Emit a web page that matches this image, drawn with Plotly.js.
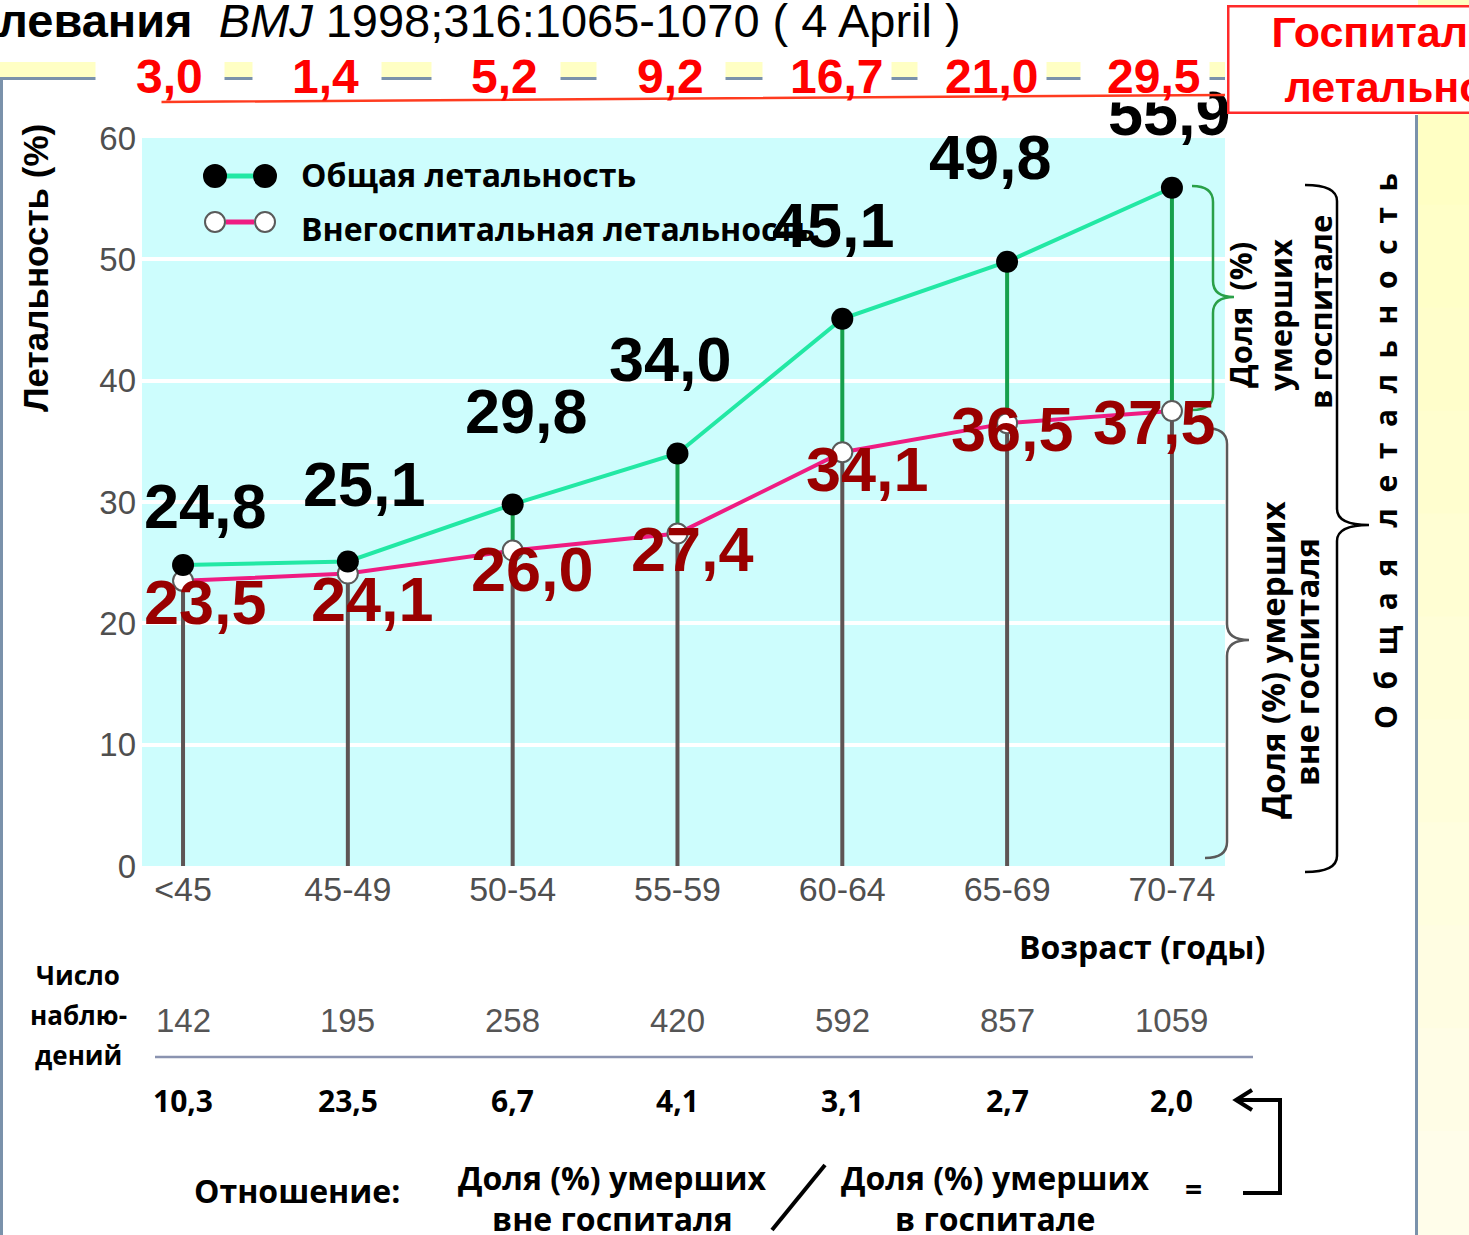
<!DOCTYPE html>
<html><head><meta charset="utf-8">
<script src="https://cdn.plot.ly/plotly-3.0.1.min.js"></script>
<style>html,body{margin:0;padding:0;background:#fff}#chart{width:1469px;height:1235px}</style>
</head><body><div id="chart"></div>
<script>
// ---- data ----
const ageGroups = ['<45','45-49','50-54','55-59','60-64','65-69','70-74'];
const totalMortality = [24.8, 25.1, 29.8, 34.0, 45.1, 49.8, 55.9];
const outOfHospitalMortality = [23.5, 24.1, 26.0, 27.4, 34.1, 36.5, 37.5];
const hospitalMortality = [3.0, 1.4, 5.2, 9.2, 16.7, 21.0, 29.5];
const observations = [142, 195, 258, 420, 592, 857, 1059];
const ratioOutIn = [10.3, 23.5, 6.7, 4.1, 3.1, 2.7, 2.0];
const yTicks = [0, 10, 20, 30, 40, 50, 60];

// ---- label offsets (px) ----
const totShiftX = [22, 17, 14, -7, -9, -17, -2];
const totShiftY = [59, 77, 93, 94, 94, 105, 75];
const outShiftX = [22, 25, 20, 15, 25, 5, -17];
const outShiftY = [-21, -25, -18, -15, -17, -6, -11];
const hospShiftX = [-14, -22, -8, -7, -6, -16, -18];

const W = 1469, H = 1235;
const X0 = 142, X1 = 1225, Y0 = 138, Y1 = 866;
const xr = [-0.249, 6.322];
const px = x => x / W, py = y => 1 - y / H;
const P = (x, y) => px(x) + ',' + py(y);
const fmt = v => v.toFixed(1).replace('.', ',');

const BOLD = 'Liberation Sans, Arial, sans-serif';
const CAL = 'Open Sans, Noto Sans, sans-serif';

// ---- traces ----
const gx = [], gy = [], vx = [], vy = [];
ageGroups.forEach((c, i) => {
  gx.push(c, c, null); gy.push(0, outOfHospitalMortality[i], null);
  vx.push(c, c, null); vy.push(outOfHospitalMortality[i], totalMortality[i], null);
});
const traces = [
  {x: gx, y: gy, mode: 'lines', line: {color: '#5e5454', width: 4}, hoverinfo: 'skip'},
  {x: vx, y: vy, mode: 'lines', line: {color: '#16a04c', width: 4}, hoverinfo: 'skip'},
  {x: ageGroups, y: outOfHospitalMortality, mode: 'lines+markers',
   line: {color: '#ef1c82', width: 4},
   marker: {size: 20, color: '#ffffff', line: {color: '#5a5a5a', width: 2}}},
  {x: ageGroups, y: totalMortality, mode: 'lines+markers',
   line: {color: '#22e8a4', width: 4},
   marker: {size: 22, color: '#000000'}}
];

// ---- annotations ----
const ann = [];
const A = (o) => ann.push(Object.assign({showarrow: false, xref: 'paper', yref: 'paper', xanchor: 'center', yanchor: 'middle'}, o));
const AX = (o) => ann.push(Object.assign({showarrow: false, xref: 'x', yref: 'paper', xanchor: 'center', yanchor: 'middle'}, o));

// legend texts
A({x: px(299), y: py(174), xanchor: 'left', text: '<b>Общая летальность</b>', font: {family: CAL, size: 32, color: '#000'}});
A({x: px(299), y: py(228), xanchor: 'left', text: '<b>Внегоспитальная летальность</b>', font: {family: CAL, size: 32, color: '#000'}});

// data labels
ageGroups.forEach((c, i) => {
  ann.push({x: c, y: outOfHospitalMortality[i], xref: 'x', yref: 'y', showarrow: false, xanchor: 'center', yanchor: 'middle',
    xshift: outShiftX[i], yshift: outShiftY[i], text: '<b>' + fmt(outOfHospitalMortality[i]) + '</b>',
    font: {family: BOLD, size: 63, color: '#990000'}});
});
ageGroups.forEach((c, i) => {
  ann.push({x: c, y: totalMortality[i], xref: 'x', yref: 'y', showarrow: false, xanchor: 'center', yanchor: 'middle',
    xshift: totShiftX[i], yshift: totShiftY[i], text: '<b>' + fmt(totalMortality[i]) + '</b>',
    font: {family: BOLD, size: 63, color: '#000'}});
});

// white boxes behind the hospital-mortality numbers (cover top of labels below)
ageGroups.forEach((c, i) => {
  AX({x: c, y: py(79), xshift: hospShiftX[i] - 9, width: 128, height: 46, borderpad: 0,
      bgcolor: '#ffffff', text: '\u00a0', font: {size: 10}});
});
// red underline
A({x: px(1225), y: py(95), showarrow: true, ax: 160 - 1225, ay: 102 - 95, arrowhead: 0,
   arrowwidth: 2.5, arrowcolor: '#ff3b1f', standoff: 0, startstandoff: 0, text: ''});

// top title
A({x: px(-4), y: py(20), xanchor: 'left',
   text: '<b>левания</b>\u00a0\u00a0<i>BMJ</i> 1998;316:1065-1070 ( 4 April )',
   font: {family: BOLD, size: 47, color: '#000'}});

// hospital mortality numbers
ageGroups.forEach((c, i) => {
  AX({x: c, y: py(76), xshift: hospShiftX[i],
    text: '<b>' + fmt(hospitalMortality[i]) + '</b>', font: {family: BOLD, size: 48, color: '#ff0000'}});
});

// red box
A({x: px(1227), y: py(5), xanchor: 'left', yanchor: 'top', width: 382, height: 104,
   bgcolor: '#ffffff', bordercolor: '#ff2a2a', borderwidth: 2.5, borderpad: 0, align: 'center',
   text: '<b>Госпитальная<br>летальность</b>', font: {family: BOLD, size: 43, color: '#ff0000'}});

// y axis title
A({x: px(35), y: py(268), textangle: -90, text: '<b>Летальность (%)</b>', font: {family: BOLD, size: 35, color: '#000'}});

// right side labels
A({x: px(1240), y: py(315), textangle: -90, text: '<b>Доля\u00a0\u00a0(%)</b>', font: {family: CAL, size: 31, color: '#000'}});
A({x: px(1280), y: py(315), textangle: -90, text: '<b>умерших</b>', font: {family: CAL, size: 31, color: '#000'}});
A({x: px(1320), y: py(312), textangle: -90, text: '<b>в госпитале</b>', font: {family: CAL, size: 31, color: '#000'}});
A({x: px(1272), y: py(660), textangle: -90, text: '<b>Доля (%) умерших</b>', font: {family: CAL, size: 33, color: '#000'}});
A({x: px(1306), y: py(662), textangle: -90, text: '<b>вне госпиталя</b>', font: {family: CAL, size: 33, color: '#000'}});
A({x: px(1385), y: py(451), textangle: -90,
   text: '<b>' + 'Общая'.split('').join('\u00a0\u00a0') + '\u00a0\u00a0\u00a0\u00a0' + 'летальность'.split('').join('\u00a0\u00a0') + '</b>',
   font: {family: CAL, size: 30, color: '#000'}});

// bottom table
A({x: px(1142), y: py(946), text: '<b>Возраст (годы)</b>', font: {family: CAL, size: 32, color: '#000'}});
A({x: px(78), y: py(975), text: '<b>Число</b>', font: {family: CAL, size: 26, color: '#000'}});
A({x: px(78), y: py(1015), text: '<b>наблю-</b>', font: {family: CAL, size: 26, color: '#000'}});
A({x: px(78), y: py(1055), text: '<b>дений</b>', font: {family: CAL, size: 26, color: '#000'}});
ageGroups.forEach((c, i) => {
  AX({x: c, y: py(1020), text: String(observations[i]), font: {family: BOLD, size: 33, color: '#555555'}});
  AX({x: c, y: py(1100), text: '<b>' + fmt(ratioOutIn[i]) + '</b>', font: {family: CAL, size: 30, color: '#000'}});
});
A({x: px(297), y: py(1190), text: '<b>Отношение:</b>', font: {family: CAL, size: 32, color: '#000'}});
A({x: px(612), y: py(1177), text: '<b>Доля (%) умерших</b>', font: {family: CAL, size: 32, color: '#000'}});
A({x: px(612), y: py(1218), text: '<b>вне госпиталя</b>', font: {family: CAL, size: 32, color: '#000'}});
A({x: px(995), y: py(1177), text: '<b>Доля (%) умерших</b>', font: {family: CAL, size: 32, color: '#000'}});
A({x: px(995), y: py(1218), text: '<b>в госпитале</b>', font: {family: CAL, size: 32, color: '#000'}});
A({x: px(1193), y: py(1188), text: '<b>=</b>', font: {family: CAL, size: 30, color: '#000'}});

// ---- shapes (decoration) ----
const shapes = [];
const S = (o) => shapes.push(Object.assign({xref: 'paper', yref: 'paper'}, o));
const rect = (x0, y0, x1, y1, fill, line) => S({type: 'rect', x0: px(x0), x1: px(x1), y0: py(y0), y1: py(y1), fillcolor: fill, line: line || {width: 0}});
const seg = (x0, y0, x1, y1, color, w) => S({type: 'line', x0: px(x0), x1: px(x1), y0: py(y0), y1: py(y1), line: {color: color, width: w}});
const path = (d, color, w) => S({type: 'path', path: d, line: {color: color, width: w}});

// right yellow panel (soft vertical gradient)
const panelBands = 12;
for (let k = 0; k < panelBands; k++) {
  const t = k / (panelBands - 1);
  const b = Math.round(0xc0 + t * (0xea - 0xc0));
  const g = Math.round(0xff - t * 2);
  rect(1418, k * H / panelBands - 1, 1480, (k + 1) * H / panelBands + 1, 'rgb(255,' + g + ',' + b + ')');
}
seg(1416.5, 115, 1416.5, 1240, '#7a92ab', 3);
// left frame line
seg(1.5, 80, 1.5, 1240, '#7a92ab', 3);
// top band
rect(0, 62, 1225, 77, '#ffffc4');
rect(0, 77, 1225, 80, '#7a92ab');

// legend glyphs
seg(226, 176, 254, 176, '#22e8a4', 5);
seg(226, 222, 254, 222, '#ef1c82', 5);
const circ = (x, y, r, fill, lc) => S({type: 'circle', x0: px(x - r), x1: px(x + r), y0: py(y - r), y1: py(y + r), fillcolor: fill, line: {color: lc, width: 2}});
circ(215, 176, 11, '#000', '#000'); circ(265, 176, 11, '#000', '#000');
circ(215, 222, 10, '#fff', '#5a5a5a'); circ(265, 222, 10, '#fff', '#5a5a5a');

// braces
function brace(x, y0, y1, w, ym) {
  const s = x + w / 2, t = x + w, r = 16;
  return 'M' + P(x, y0) + ' Q' + P(s, y0) + ' ' + P(s, y0 + r) + ' L' + P(s, ym - r) +
    ' Q' + P(s, ym) + ' ' + P(t, ym) + ' Q' + P(s, ym) + ' ' + P(s, ym + r) +
    ' L' + P(s, y1 - r) + ' Q' + P(s, y1) + ' ' + P(x, y1);
}
path(brace(1192, 186, 410, 42, 297), '#2aa048', 2.5);
path(brace(1205, 428, 858, 44, 640), '#5a5a5a', 2.5);
path(brace(1305, 185, 872, 64, 525), '#000000', 2.5);

// table rule
seg(155, 1057, 1253, 1057, '#8a93b0', 2.5);
// slash
seg(772, 1230, 825, 1165, '#000', 4);
// bracket arrow
path('M' + P(1243, 1193) + ' L' + P(1280, 1193) + ' L' + P(1280, 1100) + ' L' + P(1238, 1100), '#000', 4);
path('M' + P(1252, 1090) + ' L' + P(1236, 1100) + ' L' + P(1252, 1110), '#000', 4);

const layout = {
  width: W, height: H, margin: {l: 0, r: 0, t: 0, b: 0},
  paper_bgcolor: '#ffffff', plot_bgcolor: '#cdfdfd', showlegend: false,
  xaxis: {domain: [px(X0), px(X1)], type: 'category', range: xr,
    showgrid: false, zeroline: false, showline: false, ticks: '',
    tickfont: {family: BOLD, size: 34, color: '#4f4f4f'}},
  yaxis: {domain: [py(Y1), py(Y0)], range: [0, 60], tickvals: yTicks,
    showgrid: true, gridcolor: '#ffffff', gridwidth: 4, zeroline: false, showline: false, ticks: '',
    ticklabelstandoff: 5,
    tickfont: {family: BOLD, size: 33, color: '#4f4f4f'}},
  annotations: ann, shapes: shapes
};
Plotly.newPlot('chart', traces, layout, {displayModeBar: false, staticPlot: true});
</script></body></html>
